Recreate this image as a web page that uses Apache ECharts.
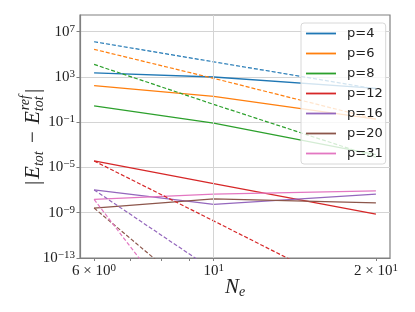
<!DOCTYPE html>
<html><head><meta charset="utf-8">
<script src="https://cdn.jsdelivr.net/npm/echarts@6/dist/echarts.min.js"></script>
<style>html,body{margin:0;padding:0;background:#fff}#c{width:415px;height:312px}</style>
</head><body><div id="c"></div>
<script>
// ---- data ----
const Ne = [6, 10, 20];
const names = ['p=4', 'p=6', 'p=8', 'p=12', 'p=16', 'p=20', 'p=31'];
const colors = ['#1f77b4', '#ff7f0e', '#2ca02c', '#d62728', '#9467bd', '#8c564b', '#e377c2'];
const p4_solid = [2.3e3, 1.0e3, 1.0e2];
const p4_dashed = [1.3e6, 2.2e4, 8.7e1];
const p6_solid = [1.7e2, 1.9e1, 1.9e-1];
const p6_dashed = [2.8e5, 7.6e2, 1.9e-1];
const p8_solid = [2.8, 8.3e-2, 1.4e-4];
const p8_dashed = [1.3e4, 3.8, 8e-5];
const p12_solid = [3.8e-5, 3.8e-7, 7.4e-10];
const p12_dashed = [3.8e-5, 1.9e-10, 1.1e-17];
const p16_solid = [1.05e-7, 5.6e-9, 4.4e-8];
const p16_dashed = [1.05e-7, 8e-15, 2e-24];
const p20_solid = [2.6e-9, 1.7e-8, 7.4e-9];
const p20_dashed = [2.6e-9, 3.5e-18, 3e-30];
const p31_solid = [1.5e-8, 4.4e-8, 8.5e-8];
const p31_dashed = [1.5e-8, 2.5e-22, 1e-40];
const xTickLabels = [6, 10, 20];
const xTicks = [6, 7, 8, 9, 10, 20];
const yTickExponents = [-13, -9, -5, -1, 3, 7];
const yMinExp = -13, yMaxExp = 8.48;

const solids = [p4_solid, p6_solid, p8_solid, p12_solid, p16_solid, p20_solid, p31_solid];
const dasheds = [p4_dashed, p6_dashed, p8_dashed, p12_dashed, p16_dashed, p20_dashed, p31_dashed];

const L = Math.log10;
const xlo = L(6), xhi = L(20), xpad = 0.05 * (xhi - xlo);

function toPts(vals) { return Ne.map((n, i) => [L(n), L(vals[i])]); }

const SERIF = '"Liberation Serif", "DejaVu Serif", serif';
const series = [];
names.forEach((nm, i) => {
  series.push({
    name: nm, type: 'line', data: toPts(solids[i]), symbol: 'none', showSymbol: false,
    lineStyle: { color: colors[i], width: 1.3 }, itemStyle: { color: colors[i] }, z: 3
  });
});
names.forEach((nm, i) => {
  series.push({
    name: nm, type: 'line', data: toPts(dasheds[i]), symbol: 'none', showSymbol: false,
    lineStyle: { color: colors[i], width: 1.2, type: [4, 2] }, itemStyle: { color: colors[i] }, z: 3
  });
});
// vertical major gridline at N=10
series.push({
  type: 'line', data: [], z: 1, silent: true,
  markLine: { silent: true, symbol: 'none', label: { show: false }, animation: false,
    lineStyle: { color: '#d4d4d4', type: 'solid', width: 1 }, data: [{ xAxis: 1 }] }
});

function supNum(n) { return n < 0 ? '\u2212' + (-n) : '' + n; }

const chart = echarts.init(document.getElementById('c'), null, { renderer: 'canvas' });

// --- axis titles laid out as graphic text ---
const cv = document.createElement('canvas').getContext('2d');
function tw(t, f) { cv.font = f; return cv.measureText(t).width; }
const FI = 'italic 21px ' + SERIF, FN = '21px ' + SERIF, FS = 'italic 14px ' + SERIF;
const pieces = [
  { t: '|', f: FN, pad: 2 }, { t: 'E', f: FI }, { sub: 'tot' }, { t: ' \u2212 ', f: FN, pad: 2 },
  { t: 'E', f: FI }, { sub: 'tot', sup: 'ref' }, { t: '|', f: FN, pad: 2 }
];
let W = 0;
pieces.forEach(p => {
  const pad = p.pad || 0;
  if (p.t) { p.w = tw(p.t, p.f) + 2 * pad; } else { p.w = Math.max(tw(p.sub, FS), p.sup ? tw(p.sup, FS) : 0) + 1; }
  p.x = W + pad; W += p.w;
});
const yChildren = [];
pieces.forEach(p => {
  const x = p.x - W / 2;
  if (p.t) yChildren.push({ type: 'text', style: { text: p.t, font: p.f, x: x, y: 0, fill: '#222', textVerticalAlign: 'middle' } });
  else {
    yChildren.push({ type: 'text', style: { text: p.sub, font: FS, x: x, y: 6, fill: '#222', textVerticalAlign: 'middle' } });
    if (p.sup) yChildren.push({ type: 'text', style: { text: p.sup, font: FS, x: x + 1, y: -8, fill: '#222', textVerticalAlign: 'middle' } });
  }
});
const wN = tw('N', FI);

const richTick = {
  b: { fontFamily: SERIF, fontSize: 15, lineHeight: 17, color: '#222' },
  s: { fontFamily: SERIF, fontSize: 11, lineHeight: 5, verticalAlign: 'top', color: '#222' }
};

chart.setOption({
  animation: false,
  backgroundColor: '#fff',
  grid: { left: 80, top: 15, width: 310, height: 243, show: true, borderColor: '#808080', borderWidth: 1.2, backgroundColor: 'transparent' },
  legend: {
    data: names, orient: 'vertical', left: 301, top: 23,
    icon: 'path://M0,0H30V1.8H0Z',
    itemWidth: 30, itemHeight: 14, itemGap: 7,
    padding: [4, 3, 4, 5],
    backgroundColor: 'rgba(255,255,255,0.8)', borderColor: '#d8d8d8', borderWidth: 1, borderRadius: 3,
    textStyle: { fontFamily: '"DejaVu Sans", sans-serif', fontSize: 13, color: '#222', padding: [0, 0, 0, 6] }
  },
  xAxis: {
    type: 'value', min: xlo - xpad, max: xhi + xpad,
    axisLine: { show: true, onZero: false, lineStyle: { color: '#808080', width: 1.2 } },
    axisTick: { show: true, customValues: xTicks.map(L), length: 3, lineStyle: { color: '#808080' } },
    splitLine: { show: false },
    axisLabel: {
      customValues: xTickLabels.map(L), margin: 5, color: '#222',
      formatter: v => {
        const n = Math.round(Math.pow(10, v));
        const e = Math.floor(L(n) + 1e-9);
        const m = Math.round(n / Math.pow(10, e));
        return (m === 1 ? '{b|10}' : '{b|' + m + ' \u00d7 10}') + '{s|' + supNum(e) + '}';
      },
      rich: richTick
    }
  },
  yAxis: {
    type: 'value', min: yMinExp, max: yMaxExp,
    axisLine: { show: true, onZero: false, lineStyle: { color: '#808080', width: 1.2 } },
    axisTick: { show: true, customValues: yTickExponents, length: 3.5, lineStyle: { color: '#808080' } },
    splitLine: { show: true, lineStyle: { color: '#d4d4d4', width: 1 } },
    axisLabel: {
      customValues: yTickExponents, margin: 5, color: '#222',
      formatter: v => '{b|10}{s|' + supNum(Math.round(v)) + '}',
      rich: richTick
    }
  },
  graphic: [
    { type: 'group', x: 33, y: 137, rotation: Math.PI / 2, children: yChildren },
    { type: 'text', style: { text: 'N', font: FI, x: 225, y: 287, fill: '#222', textVerticalAlign: 'middle' } },
    { type: 'text', style: { text: 'e', font: FS, x: 225 + wN, y: 292, fill: '#222', textVerticalAlign: 'middle' } }
  ],
  series: series
});
</script>
</body></html>
